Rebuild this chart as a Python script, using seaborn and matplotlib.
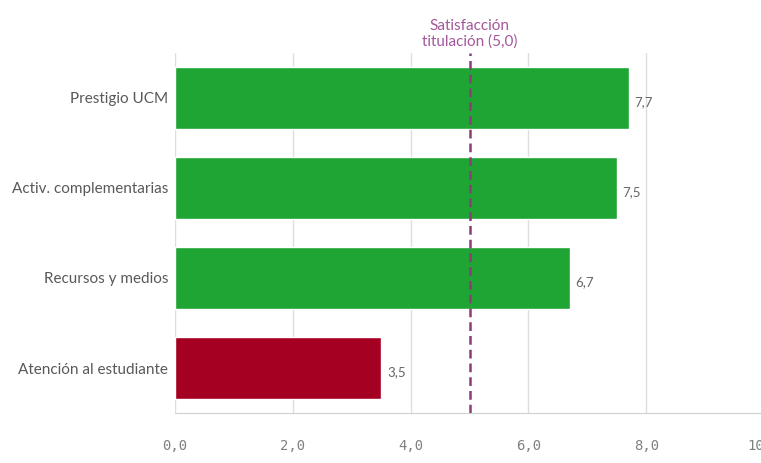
import pandas as pd
import matplotlib.pyplot as plt
import seaborn as sns

# data
categorias = ['Prestigio UCM', 'Activ. complementarias', 'Recursos y medios', 'Atención al estudiante']
valores = [7.7, 7.5, 6.7, 3.5]
colores = ['#1fa533', '#1fa533', '#1fa533', '#a50021']
referencia = 5.0
ref_texto = 'Satisfacción\ntitulación (5,0)'
xticks = [0, 2, 4, 6, 8, 10]

df = pd.DataFrame({'categoria': categorias, 'valor': valores})

sns.set_style('white')
plt.rcParams['font.family'] = ['Lato', 'DejaVu Sans']

fig = plt.figure(figsize=(7.61, 4.63), dpi=100)
ax = fig.add_axes([175 / 761, 50 / 463, 589 / 761, 360 / 463])

sns.barplot(data=df, x='valor', y='categoria', hue='categoria', palette=colores,
            width=0.69, legend=False, ax=ax, saturation=1)

ax.set_xlim(0, 10)
ax.set_ylim(3.5, -0.5)

# grid and axis styling
ax.set_xticks(xticks)
ax.set_xticklabels(['{:.1f}'.format(t).replace('.', ',') for t in xticks],
                   family='DejaVu Sans Mono', fontsize=10, color='#808080')
ax.grid(axis='x', color='#dedede', lw=1)
ax.set_axisbelow(True)
for s in ['top', 'right', 'left']:
    ax.spines[s].set_visible(False)
ax.spines['bottom'].set_color('#d0d0d0')
ax.tick_params(axis='x', length=9.4, color='#d0d0d0', pad=9, width=1)
ax.tick_params(axis='y', length=0, pad=5, labelsize=11, labelcolor='#595959')
ax.set_xlabel('')
ax.set_ylabel('')

# value labels
for i, v in enumerate(valores):
    ax.text(v + 0.1, i + 0.05, '{:.1f}'.format(v).replace('.', ','), va='center', ha='left',
            fontsize=9.5, color='#666666')

# reference line
ax.axvline(referencia, color='#8e3b7a', lw=1.8, ls=(0, (3.5, 2)), ymin=0, ymax=1)
ax.annotate(ref_texto, xy=(referencia, 1), xycoords=('data', 'axes fraction'),
            xytext=(0, 3), textcoords='offset points', ha='center', va='bottom',
            color='#a4579a', fontsize=11, linespacing=1.15, annotation_clip=False)

fig.savefig('out.png', dpi=100)
